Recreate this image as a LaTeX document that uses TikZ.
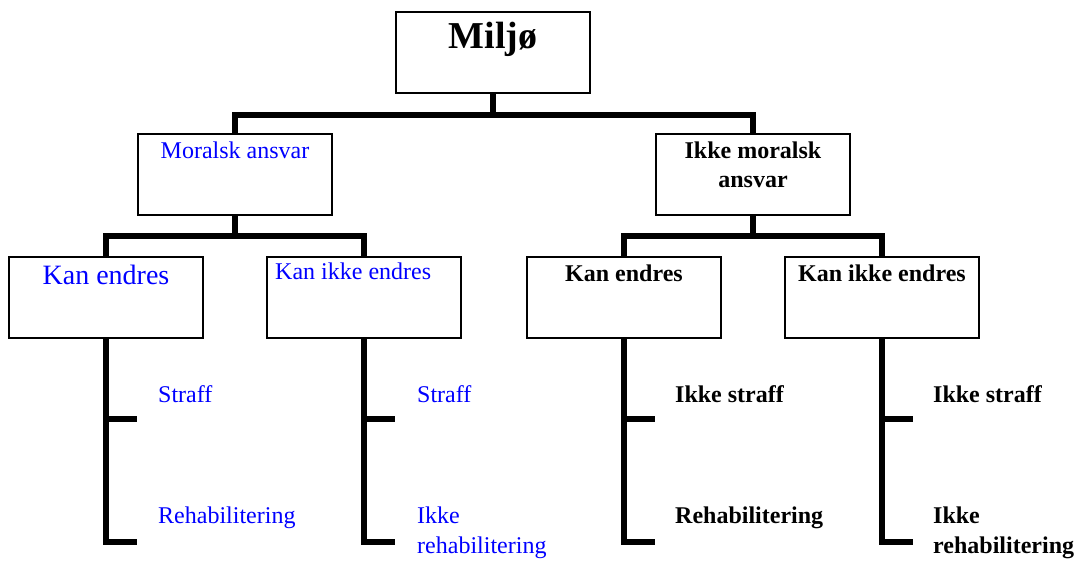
\documentclass[tikz,border=0pt]{standalone}
\usepackage{fontspec}
\setmainfont{Liberation Serif}
\definecolor{tblue}{RGB}{0,0,255}
\begin{document}
\begin{tikzpicture}[x=1pt,y=-1pt,
  box/.style={draw=black, line width=1.6pt, minimum width=194pt, minimum height=81pt, anchor=north west, inner sep=0pt, outer sep=0pt},
  conn/.style={line width=6pt, line join=miter},
  bluetxt/.style={font=\fontsize{24}{27.6}\selectfont, text=tblue, inner sep=0pt},
  boldtxt/.style={font=\fontsize{24}{27.6}\selectfont\bfseries, text=black, inner sep=0pt},
]
\useasboundingbox (0,0) rectangle (1077,560);
% boxes
\node[box] (miljo) at (396,12) {};
\node[box] (moral) at (138,134) {};
\node[box] (ikke) at (656,134) {};
\node[box] (k1) at (9,257) {};
\node[box] (k2) at (267,257) {};
\node[box] (k3) at (527,257) {};
\node[box] (k4) at (785,257) {};
% box texts
\node[anchor=base, inner sep=0pt, font=\fontsize{38}{42}\selectfont\bfseries] (tmiljo) at (493,48) {Miljø};
\node[bluetxt, anchor=base] (tmoral) at (235,158) {Moralsk ansvar};
\node[boldtxt, anchor=base] (tikkeA) at (753,158) {Ikke moralsk};
\node[boldtxt, anchor=base] (tikkeB) at (753,187) {ansvar};
\node[anchor=base, inner sep=0pt, font=\fontsize{28}{32}\selectfont, text=tblue] (tk1) at (106,284) {Kan endres};
\node[bluetxt, anchor=base west] (tk2) at (275,279) {Kan ikke endres};
\node[boldtxt, anchor=base] (tk3) at (624,281) {Kan endres};
\node[boldtxt, anchor=base] (tk4) at (882,281) {Kan ikke endres};
% junctions
\coordinate (j1) at (493,115);
\coordinate (j2) at (235,236);
\coordinate (j3) at (753,236);
% tree connectors
\draw[conn] (miljo.south) -- (j1);
\draw[conn] (moral.north) |- (j1) -| (ikke.north);
\draw[conn] (moral.south) -- (j2);
\draw[conn] (k1.north) |- (j2) -| (k2.north);
\draw[conn] (ikke.south) -- (j3);
\draw[conn] (k3.north) |- (j3) -| (k4.north);
% tick ends
\coordinate (k1a) at (137,419); \coordinate (k1b) at (137,542);
\coordinate (k2a) at (395,419); \coordinate (k2b) at (395,542);
\coordinate (k3a) at (655,419); \coordinate (k3b) at (655,542);
\coordinate (k4a) at (913,419); \coordinate (k4b) at (913,542);
\foreach \k in {k1,k2,k3,k4}{
  \draw[conn] (\k.south) |- (\k b);
  \draw[conn] (\k.south |- \k a) -- (\k a);
}
% leaf labels
\node[bluetxt, anchor=base west] (l1a) at (158,402) {Straff};
\node[bluetxt, anchor=base west] (l1b) at (158,523) {Rehabilitering};
\node[bluetxt, anchor=base west] (l2a) at (417,402) {Straff};
\node[bluetxt, anchor=base west] (l2b) at (417,523) {Ikke};
\node[bluetxt, anchor=base west] (l2c) at (417,553) {rehabilitering};
\node[boldtxt, anchor=base west] (l3a) at (675,402) {Ikke straff};
\node[boldtxt, anchor=base west] (l3b) at (675,523) {Rehabilitering};
\node[boldtxt, anchor=base west] (l4a) at (933,402) {Ikke straff};
\node[boldtxt, anchor=base west] (l4b) at (933,523) {Ikke};
\node[boldtxt, anchor=base west] (l4c) at (933,553) {rehabilitering};
\end{tikzpicture}
\end{document}
